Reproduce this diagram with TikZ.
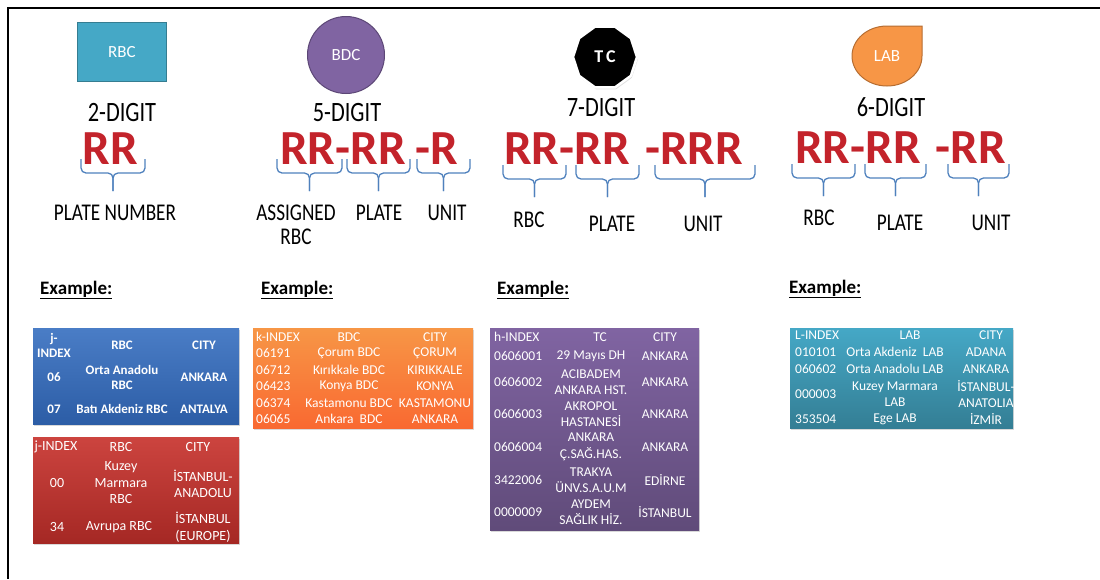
\documentclass[tikz,border=0pt]{standalone}
\usepackage{fontspec}
\setmainfont{Carlito}
\newfontfamily\labelfont{Carlito}[FakeStretch=0.8]
\usetikzlibrary{positioning, shapes.geometric, shadows}

\definecolor{rbcteal}{HTML}{45A8C6}
\definecolor{rbcedge}{HTML}{357D91}
\definecolor{bdcpurple}{HTML}{8064A2}
\definecolor{bdcedge}{HTML}{5C4776}
\definecolor{laborange}{HTML}{F79646}
\definecolor{labedge}{HTML}{B66D31}
\definecolor{codered}{HTML}{C3232B}
\definecolor{braceblue}{HTML}{4F81BD}
\definecolor{tblblue}{HTML}{4A7DC6}
\definecolor{tblbluedk}{HTML}{2C5DA6}
\definecolor{tblred}{HTML}{CC443F}
\definecolor{tblreddk}{HTML}{A52824}

% brace under a code part: left x, right x, top y
\newcommand{\codebrace}[3]{%
  \draw[brc] (#1,#3) |- ({(#1+#2)/2},{#3+14}) -- ({(#1+#2)/2},{#3+32});
  \draw[brc] (#2,#3) |- ({(#1+#2)/2},{#3+14}) -- ({(#1+#2)/2},{#3+32});
}

\begin{document}
\begin{tikzpicture}[x=1pt, y=-1pt,
  tag/.style={text=white, font=\fontsize{17}{17}\selectfont},
  digits/.style={font=\labelfont\fontsize{28}{28}\selectfont, inner sep=0pt},
  code/.style={text=codered, font=\bfseries\fontsize{49}{49}\selectfont, inner sep=0pt},
  part/.style={font=\labelfont\fontsize{24}{24}\selectfont, align=center, inner sep=0pt},
  brc/.style={draw=braceblue, line width=1.3pt, rounded corners=5pt},
  example/.style={anchor=west, inner sep=0pt, font=\bfseries\fontsize{19}{19}\selectfont},
  tbl/.style={inner sep=0pt, drop shadow={opacity=0.3, shadow xshift=1pt, shadow yshift=-2pt}},
  cell/.style={text=white, align=center, inner sep=0pt, font=\fontsize{13.5}{16.5}\selectfont},
  rcell/.style={cell, font=\fontsize{14}{16.5}\selectfont},
  bcell/.style={cell, font=\bfseries\fontsize{13}{15}\selectfont}
]
\useasboundingbox (0,0) rectangle (1100,579);
\draw[line width=2.5pt] (1100,8) -- (8,8) -- (8,579);

% -------- ICONS --------
\node[tag, draw=rbcedge, fill=rbcteal, line width=1pt, minimum width=89pt, minimum height=59pt] (rbc) at (122,52) {RBC};
\node[tag, circle, draw=bdcedge, fill=bdcpurple, line width=1pt, minimum size=77pt] (bdc) at (346,55) {BDC};
\node[tag, regular polygon, regular polygon sides=10, draw=white, fill=black, line width=2.5pt,
      minimum size=64pt, drop shadow={opacity=0.25, shadow xshift=1pt, shadow yshift=-2pt},
      font=\bfseries\fontsize{18}{18}\selectfont] (tc) at (605,57) {T\hspace{3pt}C};
\draw[draw=labedge, fill=laborange, line width=1pt] (922,56) arc[start angle=0, end angle=270, x radius=35, y radius=30] -- (922,26) -- cycle;
\node[tag] (lab) at (887,56) {LAB};

% -------- DIGIT COUNTS --------
\node[digits] (d2) at (122,113) {2-DIGIT};
\node[digits] (d5) at (347,113) {5-DIGIT};
\node[digits] (d7) at (601,108) {7-DIGIT};
\node[digits] (d6) at (891,107) {6-DIGIT};

% -------- CODES --------
\node[code] (c2) at (110,149) {RR};
\node[code] (c5a) at (343,149) {RR-RR};
\node[code] (c5b) at (437,149) {-R};
\node[code] (c7a) at (567,149) {RR-RR};
\node[code] (c7b) at (694,149) {-RRR};
\node[code] (c6a) at (858,148) {RR-RR};
\node[code] (c6b) at (971,148) {-RR};

% braces
\codebrace{81}{145}{159}
\codebrace{277}{342}{159}
\codebrace{347}{410}{159}
\codebrace{417}{470}{159}
\codebrace{503}{566}{165}
\codebrace{576}{639}{165}
\codebrace{655}{755}{165}
\codebrace{792}{855}{164}
\codebrace{865}{926}{164}
\codebrace{948}{1009}{164}

% parts
\node[part] (p2) at (115,213) {PLATE NUMBER};
\node[part] (p5a) at (296,225) {ASSIGNED\\RBC};
\node[part] (p5b) at (379,213) {PLATE};
\node[part] (p5c) at (447,213) {UNIT};
\node[part] (p7a) at (529,220) {RBC};
\node[part] (p7b) at (612,224) {PLATE};
\node[part] (p7c) at (703,224) {UNIT};
\node[part] (p6a) at (819,218) {RBC};
\node[part] (p6b) at (900,223) {PLATE};
\node[part] (p6c) at (991,223) {UNIT};

% -------- EXAMPLES --------
\node[example] (ex2) at (40,290) {\underline{Example:}};
\node[example] (ex5) at (261,290) {\underline{Example:}};
\node[example] (ex7) at (497,290) {\underline{Example:}};
\node[example] (ex6) at (789,289) {\underline{Example:}};

% RBC tables
\node[tbl, top color=tblblue, bottom color=tblbluedk, minimum width=206pt, minimum height=96pt] (trbc) at (136,376) {};
\node[bcell] (a11) at (54,345) {j-\\INDEX};
\node[bcell] (a12) at (122,345) {RBC};
\node[bcell] (a13) at (204,345) {CITY};
\node[bcell] (a21) at (54,377) {06};
\node[bcell] (a22) at (122,377) {Orta Anadolu\\RBC};
\node[bcell] (a23) at (204,377) {ANKARA};
\node[bcell] (a31) at (54,409) {07};
\node[bcell] (a32) at (122,409) {Batı Akdeniz RBC};
\node[bcell] (a33) at (204,409) {ANTALYA};

\node[tbl, top color=tblred, bottom color=tblreddk, minimum width=206pt, minimum height=106pt] (trbc2) at (136,490) {};
\node[rcell] (b11) at (56,447) {j-INDEX};
\node[rcell] (b12) at (121,447) {RBC};
\node[rcell] (b13) at (198,447) {CITY};
\node[rcell] (b21) at (57,483) {00};
\node[rcell] (b22) at (121,483) {Kuzey\\Marmara\\RBC};
\node[rcell] (b23) at (203,484) {İSTANBUL-\\ANADOLU};
\node[rcell] (b31) at (57,527) {34};
\node[rcell] (b32) at (119,527) {Avrupa RBC};
\node[rcell] (b33) at (203,527) {İSTANBUL\\(EUROPE)};

% BDC table
\node[tbl, top color=laborange, bottom color=laborange!70!red, minimum width=220pt, minimum height=100pt] (tbdc) at (363,378) {};
\node[cell, anchor=west] (c11) at (256,337) {k-INDEX};
\node[cell] (c12) at (349,337) {BDC};
\node[cell] (c13) at (435,337) {CITY};
\node[cell, anchor=west] (c21) at (256,353) {06191};
\node[cell] (c22) at (349,353) {Çorum BDC};
\node[cell] (c23) at (435,353) {ÇORUM};
\node[cell, anchor=west] (c31) at (256,370) {06712};
\node[cell] (c32) at (349,370) {Kırıkkale BDC};
\node[cell] (c33) at (435,370) {KIRIKKALE};
\node[cell, anchor=west] (c41) at (256,386) {06423};
\node[cell] (c42) at (349,386) {Konya BDC};
\node[cell] (c43) at (435,386) {KONYA};
\node[cell, anchor=west] (c51) at (256,403) {06374};
\node[cell] (c52) at (349,403) {Kastamonu BDC};
\node[cell] (c53) at (435,403) {KASTAMONU};
\node[cell, anchor=west] (c61) at (256,419) {06065};
\node[cell] (c62) at (349,419) {Ankara\ \ BDC};
\node[cell] (c63) at (435,419) {ANKARA};

% TC table
\node[tbl, top color=bdcpurple, bottom color=bdcpurple!75!black, minimum width=209pt, minimum height=202pt] (ttc) at (594.5,429) {};
\node[cell, anchor=west] (d11) at (494,337) {h-INDEX};
\node[cell] (d12) at (600,337) {TC};
\node[cell] (d13) at (665,337) {CITY};
\node[cell, anchor=west] (d21) at (494,356) {0606001};
\node[cell] (d22) at (591,356) {29 Mayıs DH};
\node[cell] (d23) at (665,356) {ANKARA};
\node[cell, anchor=west] (d31) at (494,382) {0606002};
\node[cell] (d32) at (591,382) {ACIBADEM\\ANKARA HST.};
\node[cell] (d33) at (665,382) {ANKARA};
\node[cell, anchor=west] (d41) at (494,414) {0606003};
\node[cell] (d42) at (591,414) {AKROPOL\\HASTANESİ};
\node[cell] (d43) at (665,414) {ANKARA};
\node[cell, anchor=west] (d51) at (494,447) {0606004};
\node[cell] (d52) at (591,447) {ANKARA\\Ç.SAĞ.HAS.};
\node[cell] (d53) at (665,447) {ANKARA};
\node[cell, anchor=west] (d61) at (494,480) {3422006};
\node[cell] (d62) at (591,480) {TRAKYA\\ÜNV.S.A.U.M};
\node[cell] (d63) at (665,480) {EDİRNE};
\node[cell, anchor=west] (d71) at (494,512) {0000009};
\node[cell] (d72) at (591,512) {AYDEM\\SAĞLIK HİZ.};
\node[cell] (d73) at (665,512) {İSTANBUL};

% LAB table
\node[tbl, top color=rbcteal, bottom color=rbcteal!75!black, minimum width=223pt, minimum height=100pt] (tlab) at (901.5,378) {};
\node[cell, anchor=west] (e11) at (795,335) {L-INDEX};
\node[cell] (e12) at (910,335) {LAB};
\node[cell] (e13) at (991,335) {CITY};
\node[cell, anchor=west] (e21) at (795,352) {010101};
\node[cell] (e22) at (895,352) {Orta Akdeniz\ \ LAB};
\node[cell] (e23) at (986,352) {ADANA};
\node[cell, anchor=west] (e31) at (795,369) {060602};
\node[cell] (e32) at (895,369) {Orta Anadolu LAB};
\node[cell] (e33) at (986,369) {ANKARA};
\node[cell, anchor=west] (e41) at (795,394) {000003};
\node[cell] (e42) at (895,394) {Kuzey Marmara\\LAB};
\node[cell] (e43) at (986,394) {İSTANBUL-\\ANATOLIA};
\node[cell, anchor=west] (e51) at (795,419) {353504};
\node[cell] (e52) at (895,419) {Ege LAB};
\node[cell] (e53) at (986,419) {İZMİR};
\end{tikzpicture}
\end{document}
